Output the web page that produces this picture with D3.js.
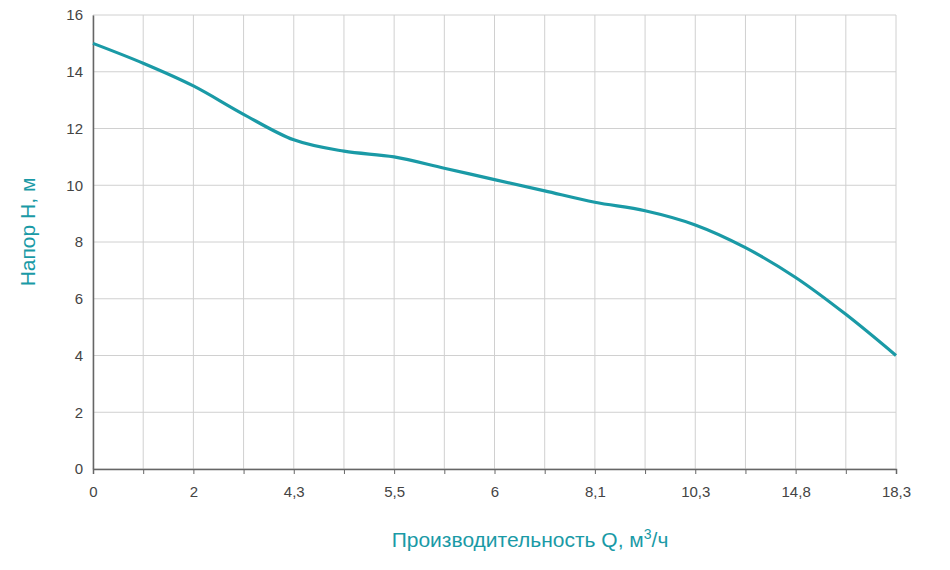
<!DOCTYPE html>
<html><head><meta charset="utf-8">
<script src="https://cdn.jsdelivr.net/npm/d3@7"></script>
<style>body{margin:0;background:#fff;font-family:Arial,"Liberation Sans",sans-serif}</style>
</head><body><svg id="chart" width="950" height="570"></svg>
<script>
// tick labels at every second grid step
var qLabels = ['0', '2', '4,3', '5,5', '6', '8,1', '10,3', '14,8', '18,3'];
// head H read at every grid step (17 steps)
var headValues = [15, 14.3, 13.5, 12.5, 11.6, 11.2, 11.0, 10.6, 10.2, 9.8, 9.4, 9.1, 8.6, 7.8, 6.75, 5.45, 4.0];
var yTicks = [0, 2, 4, 6, 8, 10, 12, 14, 16];

var margin = {left: 93, right: 54, top: 15, bottom: 101};
var width = 950 - margin.left - margin.right, height = 570 - margin.top - margin.bottom;
var teal = '#1a9aa6';

var svg = d3.select('#chart').append('g').attr('transform', 'translate(' + margin.left + ',' + margin.top + ')');
var x = d3.scaleLinear().domain([0, headValues.length - 1]).range([0, width]);
var y = d3.scaleLinear().domain([0, 16]).range([height, 0]);

// grid
svg.append('g').selectAll('line').data(d3.range(headValues.length)).enter().append('line')
  .attr('x1', function (d) { return x(d); }).attr('x2', function (d) { return x(d); })
  .attr('y1', 0).attr('y2', height).attr('stroke', '#d0d0d0');
svg.append('g').selectAll('line').data(yTicks).enter().append('line')
  .attr('x1', 0).attr('x2', width)
  .attr('y1', function (d) { return y(d); }).attr('y2', function (d) { return y(d); }).attr('stroke', '#d0d0d0');

// axes
var xAxis = svg.append('g').attr('transform', 'translate(0,' + height + ')')
  .call(d3.axisBottom(x).tickValues(d3.range(headValues.length)).tickSize(5)
    .tickFormat(function (d) { return d % 2 === 0 ? qLabels[d / 2] : ''; }));
var yAxis = svg.append('g').call(d3.axisLeft(y).tickValues(yTicks).tickSize(0).tickPadding(10));
[xAxis, yAxis].forEach(function (a) {
  a.selectAll('path,line').attr('stroke', '#666');
  a.selectAll('text').attr('fill', '#444').style('font-size', '15px').style('font-family', 'Arial,"Liberation Sans",sans-serif');
});
xAxis.selectAll('text').attr('dy', '1.3em');
xAxis.select('.domain').attr('stroke-width', 1.5);
yAxis.select('.domain').attr('stroke-width', 1.5);

// curve
svg.append('path').datum(headValues)
  .attr('d', d3.line().x(function (d, i) { return x(i); }).y(function (d) { return y(d); }).curve(d3.curveMonotoneX))
  .attr('fill', 'none').attr('stroke', teal).attr('stroke-width', 3.2);

// labels
svg.append('text').attr('transform', 'translate(-58,' + (height / 2 - 10) + ') rotate(-90)')
  .attr('text-anchor', 'middle').attr('fill', teal).style('font-size', '21px').text('Напор H, м');
var xl = svg.append('text').attr('x', 437).attr('y', height + 78)
  .attr('text-anchor', 'middle').attr('fill', teal).style('font-size', '21px');
xl.append('tspan').text('Производительность Q, м');
xl.append('tspan').attr('dy', -8).style('font-size', '14px').text('3');
xl.append('tspan').attr('dy', 8).text('/ч');
</script></body></html>
